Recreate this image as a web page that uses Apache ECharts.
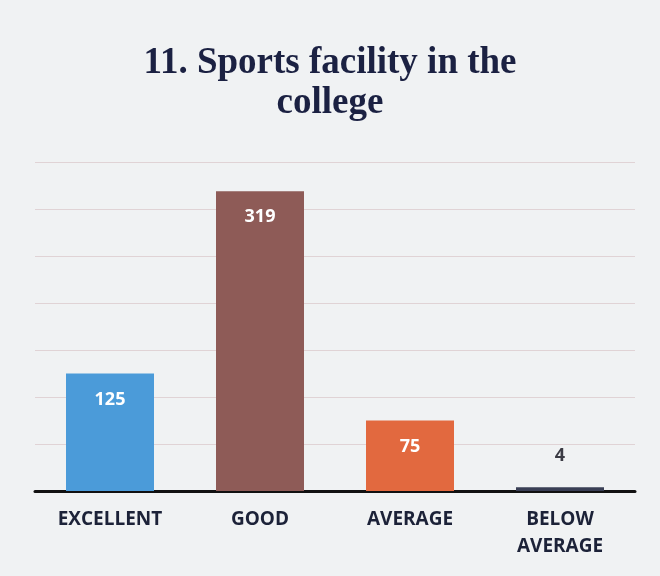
<!DOCTYPE html>
<html>
<head>
<meta charset="utf-8">
<script src="https://cdn.jsdelivr.net/npm/echarts@6/dist/echarts.min.js"></script>
<style>
  html, body { margin: 0; padding: 0; background: #f0f2f3; }
  #chart { width: 660px; height: 576px; }
</style>
</head>
<body>
<div id="chart"></div>
<script>
// data
const categories = ['EXCELLENT', 'GOOD', 'AVERAGE', 'BELOW\nAVERAGE'];
const counts = [125, 319, 75, 4];
const barColors = ['#4b9bd9', '#8e5b57', '#e2693f', '#3a3f55'];

const chart = echarts.init(document.getElementById('chart'));

chart.setOption({
  backgroundColor: '#f0f2f3',
  title: {
    text: '11. Sports facility in the\ncollege',
    left: 'center',
    top: 38,
    textStyle: {
      fontFamily: 'Liberation Serif',
      fontSize: 37,
      fontWeight: 'bold',
      color: '#1b2142',
      lineHeight: 40
    }
  },
  grid: { left: 35, right: 25, top: 162, bottom: 85 },
  xAxis: {
    type: 'category',
    data: categories,
    axisLine: { lineStyle: { color: '#111', width: 3 } },
    axisTick: { show: false },
    axisLabel: {
      interval: 0,
      margin: 15,
      fontFamily: 'Open Sans',
      fontSize: 19,
      fontWeight: 'bold',
      color: '#1c2238',
      lineHeight: 27
    }
  },
  yAxis: {
    type: 'value',
    min: 0,
    max: 350,
    interval: 50,
    axisLine: { show: false },
    axisTick: { show: false },
    axisLabel: { show: false },
    splitLine: { lineStyle: { color: '#e0d3d5', width: 1 } }
  },
  series: [{
    type: 'bar',
    data: counts.map((v, i) => ({
      value: v,
      itemStyle: { color: barColors[i] },
      label: i === 3
        ? { position: 'top', distance: 22, color: '#3b3b44' }
        : { position: 'insideTop', distance: 17, color: '#ffffff' }
    })),
    barWidth: 88,
    label: {
      show: true,
      fontFamily: 'Open Sans',
      fontSize: 18,
      fontWeight: 'bold'
    }
  }]
});
</script>
</body>
</html>
